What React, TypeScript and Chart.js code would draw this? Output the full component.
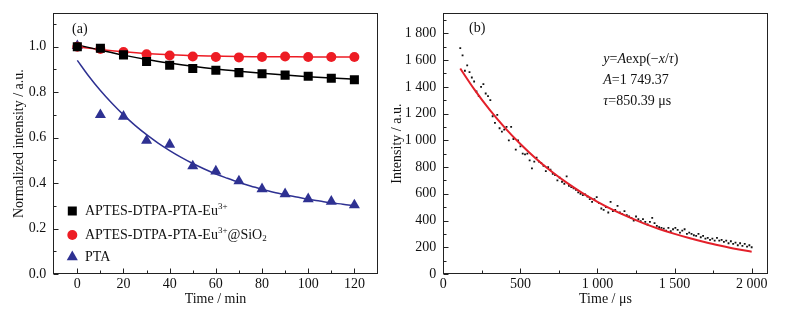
import React, { useEffect, useRef } from "react";
import { Chart, registerables } from "chart.js";

Chart.register(...registerables);

const FONT = '"Liberation Serif", "Times New Roman", serif';
const TXT = "#111";

// ---------- Panel (a) ----------
const TIME_A = [0, 10, 20, 30, 40, 50, 60, 70, 80, 90, 100, 110, 120];
const EU = [1.0, 0.993, 0.964, 0.935, 0.918, 0.904, 0.896, 0.886, 0.881, 0.875, 0.87, 0.861, 0.855];
const EU_SIO2 = [1.0, 0.99, 0.977, 0.967, 0.961, 0.957, 0.955, 0.953, 0.955, 0.957, 0.955, 0.955, 0.955];
const PTA = [1.004, 0.7, 0.693, 0.587, 0.57, 0.475, 0.452, 0.409, 0.374, 0.352, 0.33, 0.319, 0.303];

const FIT_EU = [1.008, 0.985, 0.963, 0.944, 0.928, 0.914, 0.902, 0.892, 0.883, 0.875, 0.868, 0.862, 0.857];
const FIT_EU_SIO2 = [1.0, 0.988, 0.978, 0.97, 0.965, 0.961, 0.959, 0.957, 0.956, 0.956, 0.955, 0.955, 0.955];
const FIT_PTA_T = [0, 5, 10, 15, 20, 25, 30, 35, 40, 45, 50, 55, 60, 65, 70, 75, 80, 85, 90, 95, 100, 105, 110, 115, 120];
const FIT_PTA = [0.94, 0.87, 0.807, 0.751, 0.7, 0.654, 0.613, 0.576, 0.543, 0.513, 0.486, 0.462, 0.44, 0.421, 0.403, 0.387, 0.373, 0.36, 0.349, 0.339, 0.329, 0.321, 0.313, 0.307, 0.3];

const A_X_MAJOR = [0, 20, 40, 60, 80, 100, 120];
const A_X_MINOR = [10, 30, 50, 70, 90, 110];
const A_Y_MAJOR = [0, 0.2, 0.4, 0.6, 0.8, 1.0];
const A_Y_MINOR = [0.1, 0.3, 0.5, 0.7, 0.9, 1.1];

// ---------- Panel (b) ----------
const DECAY_T = [
  110, 125, 140, 155, 170, 185, 200, 215, 230, 245,
  260, 275, 290, 305, 320, 335, 350, 365, 380, 395,
  410, 425, 440, 455, 470, 485, 500, 515, 530, 545,
  560, 575, 590, 605, 620, 635, 650, 665, 680, 695,
  710, 725, 740, 755, 770, 785, 800, 815, 830, 845,
  860, 875, 890, 905, 920, 935, 950, 965, 980, 995,
  1010, 1025, 1040, 1055, 1070, 1085, 1100, 1115, 1130, 1145,
  1160, 1175, 1190, 1205, 1220, 1235, 1250, 1265, 1280, 1295,
  1310, 1325, 1340, 1355, 1370, 1385, 1400, 1415, 1430, 1445,
  1460, 1475, 1490, 1505, 1520, 1535, 1550, 1565, 1580, 1595,
  1610, 1625, 1640, 1655, 1670, 1685, 1700, 1715, 1730, 1745,
  1760, 1775, 1790, 1805, 1820, 1835, 1850, 1865, 1880, 1895,
  1910, 1925, 1940, 1955, 1970, 1985, 2000,
];
const DECAY_I = [
  1690, 1635, 1520, 1560, 1510, 1470, 1440, 1365, 1330, 1400,
  1420, 1350, 1330, 1300, 1180, 1130, 1190, 1090, 1065, 1080,
  1100, 1000, 1100, 1010, 930, 1000, 955, 900, 895, 900,
  850, 790, 840, 870, 840, 830, 810, 770, 800, 780,
  750, 740, 700, 720, 690, 675, 730, 660, 650, 640,
  630, 610, 600, 590, 595, 580, 560, 540, 560, 575,
  530, 490, 480, 500, 460, 540, 470, 480, 510, 460,
  450, 470, 440, 430, 420, 400, 430, 410, 395, 410,
  390, 370, 390, 420, 380, 360, 350, 345, 340, 325,
  345, 320, 335, 345, 330, 310, 325, 335, 300, 310,
  300, 290, 285, 300, 275, 285, 265, 270, 255, 265,
  250, 270, 250, 255, 240, 250, 230, 245, 225, 235,
  215, 230, 210, 225, 205, 215, 200,
];
const FIT_B_T = [110, 200, 300, 400, 500, 600, 700, 800, 900, 1000, 1100, 1200, 1300, 1400, 1500, 1600, 1700, 1800, 1900, 2000];
const FIT_B_I = [1537, 1383, 1229, 1093, 972, 864, 768, 683, 607, 540, 480, 427, 379, 337, 300, 267, 237, 211, 187, 167];

const B_X_MAJOR = [0, 500, 1000, 1500, 2000];
const B_X_MINOR = [250, 750, 1250, 1750];
const B_Y_MAJOR = [0, 200, 400, 600, 800, 1000, 1200, 1400, 1600, 1800];
const B_Y_MINOR = [100, 300, 500, 700, 900, 1100, 1300, 1500, 1700, 1900];

const zip = (xs: number[], ys: number[]) => xs.map((x, i) => ({ x, y: ys[i] }));

type Seg = { t: string; it?: boolean; sz?: number; dy?: number };

function drawRich(ctx: CanvasRenderingContext2D, x: number, y: number, segs: Seg[], base = 14) {
  let cx = x;
  ctx.textBaseline = "middle";
  ctx.textAlign = "left";
  ctx.fillStyle = TXT;
  for (const s of segs) {
    const size = s.sz ?? base;
    ctx.font = `${s.it ? "italic " : ""}${size}px ${FONT}`;
    ctx.fillText(s.t, cx, y + (s.dy ?? 0));
    cx += ctx.measureText(s.t).width;
  }
}

const frameTicksPlugin = {
  id: "frameTicks",
  afterDatasetsDraw(chart: any, _args: any, opts: any) {
    const { ctx, chartArea: a, scales } = chart;
    const xs = scales.x;
    const ys = scales.y;
    const L = Math.round(a.left) + 0.5;
    const R = Math.round(a.right) - 0.5;
    const T = Math.round(a.top) + 0.5;
    const B = Math.round(a.bottom) - 0.5;
    ctx.save();
    ctx.strokeStyle = "#222";
    ctx.lineWidth = 1;
    ctx.strokeRect(L, T, R - L, B - T);
    ctx.beginPath();
    const tx = (v: number, len: number) => {
      const p = Math.round(xs.getPixelForValue(v)) + 0.5;
      ctx.moveTo(p, B);
      ctx.lineTo(p, B - len);
    };
    const ty = (v: number, len: number) => {
      const p = Math.round(ys.getPixelForValue(v)) + 0.5;
      ctx.moveTo(L, p);
      ctx.lineTo(L + len, p);
    };
    (opts.xMajor || []).forEach((v: number) => tx(v, 5));
    (opts.xMinor || []).forEach((v: number) => tx(v, 3));
    (opts.yMajor || []).forEach((v: number) => ty(v, 5));
    (opts.yMinor || []).forEach((v: number) => ty(v, 3));
    ctx.stroke();
    ctx.restore();
  },
};

const notesPlugin = {
  id: "notes",
  afterDraw(chart: any, _args: any, opts: any) {
    const ctx: CanvasRenderingContext2D = chart.ctx;
    ctx.save();
    for (const n of opts.texts || []) drawRich(ctx, n.x, n.y, n.segs, n.size ?? 14);
    for (const m of opts.legend || []) {
      ctx.fillStyle = m.color;
      ctx.beginPath();
      if (m.shape === "rect") {
        ctx.rect(m.mx - 4.5, m.y - 4.5, 9, 9);
      } else if (m.shape === "circle") {
        ctx.arc(m.mx, m.y, 5, 0, Math.PI * 2);
      } else {
        const r = 6.4;
        ctx.moveTo(m.mx, m.y - r);
        ctx.lineTo(m.mx + r * 0.866, m.y + r * 0.5);
        ctx.lineTo(m.mx - r * 0.866, m.y + r * 0.5);
        ctx.closePath();
      }
      ctx.fill();
      drawRich(ctx, m.tx, m.y, m.segs, 14);
    }
    ctx.restore();
  },
};

const tickFont = { family: FONT, size: 14 };

function makeScales(cfg: any) {
  return {
    x: {
      type: "linear",
      min: cfg.xMin,
      max: cfg.xMax,
      grid: { display: false, drawTicks: false },
      border: { display: false },
      ticks: {
        font: tickFont,
        color: TXT,
        padding: 2,
        maxRotation: 0,
        autoSkip: false,
        callback: cfg.xFmt,
      },
      afterBuildTicks: (s: any) => {
        s.ticks = cfg.xMajor.map((v: number) => ({ value: v }));
      },
      afterFit: (s: any) => {
        s.height = 42;
        s.paddingLeft = 0;
        s.paddingRight = 0;
      },
      title: {
        display: true,
        text: cfg.xTitle,
        font: tickFont,
        color: TXT,
        padding: { top: 0, bottom: 8.6 },
      },
    },
    y: {
      type: "linear",
      min: cfg.yMin,
      max: cfg.yMax,
      grid: { display: false, drawTicks: false },
      border: { display: false },
      ticks: {
        font: tickFont,
        color: TXT,
        padding: 7,
        autoSkip: false,
        callback: cfg.yFmt,
      },
      afterBuildTicks: (s: any) => {
        s.ticks = cfg.yMajor.map((v: number) => ({ value: v }));
      },
      afterFit: (s: any) => {
        s.width = cfg.yWidth;
        s.paddingTop = 0;
        s.paddingBottom = 0;
      },
      title: {
        display: true,
        text: cfg.yTitle,
        font: tickFont,
        color: TXT,
        padding: { top: cfg.yTitlePad, bottom: 0 },
      },
    },
  };
}

const spaced = (v: number) => {
  const s = String(Math.round(v));
  return s.length > 3 ? s.slice(0, s.length - 3) + " " + s.slice(s.length - 3) : s;
};

const BLUE = "#2e3192";
const RED = "#ed1c24";

function PanelA() {
  const ref = useRef<HTMLCanvasElement>(null);
  useEffect(() => {
    const chart = new Chart(ref.current!, {
      type: "scatter",
      data: {
        datasets: [
          { data: zip(TIME_A, EU), pointStyle: "rect", pointRadius: 6.4, backgroundColor: "#000", borderWidth: 0, order: 0 },
          { data: zip(TIME_A, EU_SIO2), pointStyle: "circle", pointRadius: 5, backgroundColor: RED, borderWidth: 0, order: 0 },
          { data: zip(TIME_A, PTA), pointStyle: "triangle", pointRadius: 6.4, backgroundColor: BLUE, borderWidth: 0, order: 0 },
          { data: zip(TIME_A, FIT_EU), showLine: true, pointRadius: 0, borderColor: "#000", borderWidth: 1.5, cubicInterpolationMode: "monotone", order: 1 },
          { data: zip(TIME_A, FIT_EU_SIO2), showLine: true, pointRadius: 0, borderColor: RED, borderWidth: 1.5, cubicInterpolationMode: "monotone", order: 1 },
          { data: zip(FIT_PTA_T, FIT_PTA), showLine: true, pointRadius: 0, borderColor: BLUE, borderWidth: 1.5, cubicInterpolationMode: "monotone", order: 1 },
        ] as any,
      },
      options: {
        animation: false,
        responsive: false,
        layout: { padding: { left: 0, right: 7.3, top: 13.3, bottom: 0 } },
        plugins: {
          legend: { display: false },
          tooltip: { enabled: false },
          frameTicks: { xMajor: A_X_MAJOR, xMinor: A_X_MINOR, yMajor: A_Y_MAJOR, yMinor: A_Y_MINOR },
          notes: {
            texts: [{ x: 72, y: 29, segs: [{ t: "(a)" }] }],
            legend: [
              { shape: "rect", color: "#000", mx: 72.3, tx: 85, y: 211, segs: [{ t: "APTES-DTPA-PTA-Eu" }, { t: "3+", sz: 9, dy: -4 }] },
              { shape: "circle", color: RED, mx: 72.3, tx: 85, y: 235, segs: [{ t: "APTES-DTPA-PTA-Eu" }, { t: "3+", sz: 9, dy: -4 }, { t: "@SiO" }, { t: "2", sz: 9, dy: 4 }] },
              { shape: "triangle", color: BLUE, mx: 72.3, tx: 85, y: 257, segs: [{ t: "PTA" }] },
            ],
          },
        } as any,
        scales: makeScales({
          xMin: -10.4, xMax: 130.1, xMajor: A_X_MAJOR, xTitle: "Time / min", xFmt: (v: any) => String(v),
          yMin: 0, yMax: 1.147, yMajor: A_Y_MAJOR, yTitle: "Normalized intensity / a.u.", yFmt: (v: any) => Number(v).toFixed(1),
          yWidth: 53.3, yTitlePad: 10.6,
        }) as any,
      },
      plugins: [frameTicksPlugin, notesPlugin],
    });
    return () => chart.destroy();
  }, []);
  return <canvas ref={ref} width={385} height={316} style={{ display: "block" }} />;
}

function PanelB() {
  const ref = useRef<HTMLCanvasElement>(null);
  useEffect(() => {
    const chart = new Chart(ref.current!, {
      type: "scatter",
      data: {
        datasets: [
          { data: zip(DECAY_T, DECAY_I), pointStyle: "rect", pointRadius: 1.3, backgroundColor: "#111", borderWidth: 0, order: 1 },
          { data: zip(FIT_B_T, FIT_B_I), showLine: true, pointRadius: 0, borderColor: "#e3202a", borderWidth: 2, cubicInterpolationMode: "monotone", order: 0 },
        ] as any,
      },
      options: {
        animation: false,
        responsive: false,
        layout: { padding: { left: 0, right: 17.3, top: 13.3, bottom: 0 } },
        plugins: {
          legend: { display: false },
          tooltip: { enabled: false },
          frameTicks: { xMajor: B_X_MAJOR, xMinor: B_X_MINOR, yMajor: B_Y_MAJOR, yMinor: B_Y_MINOR },
          notes: {
            texts: [
              { x: 84, y: 28, segs: [{ t: "(b)" }] },
              { x: 218.3, y: 59.3, segs: [{ t: "y", it: true }, { t: "=" }, { t: "A", it: true }, { t: "exp(\u2212" }, { t: "x", it: true }, { t: "/" }, { t: "\u03c4", it: true }, { t: ")" }] },
              { x: 218.3, y: 80, segs: [{ t: "A", it: true }, { t: "=1 749.37" }] },
              { x: 218.3, y: 101.7, segs: [{ t: "\u03c4", it: true }, { t: "=850.39 \u03bcs" }] },
            ],
          },
        } as any,
        scales: makeScales({
          xMin: 0, xMax: 2104, xMajor: B_X_MAJOR, xTitle: "Time / \u03bcs", xFmt: (v: any) => spaced(Number(v)),
          yMin: 0, yMax: 1950, yMajor: B_Y_MAJOR, yTitle: "Intensity / a.u.", yFmt: (v: any) => spaced(Number(v)),
          yWidth: 58.3, yTitlePad: 3.6,
        }) as any,
      },
      plugins: [frameTicksPlugin, notesPlugin],
    });
    return () => chart.destroy();
  }, []);
  return <canvas ref={ref} width={400} height={316} style={{ display: "block" }} />;
}

export default function App() {
  return (
    <div style={{ position: "absolute", left: 0, top: 0, width: 785, height: 316, display: "flex", background: "#fff" }}>
      <PanelA />
      <PanelB />
    </div>
  );
}
